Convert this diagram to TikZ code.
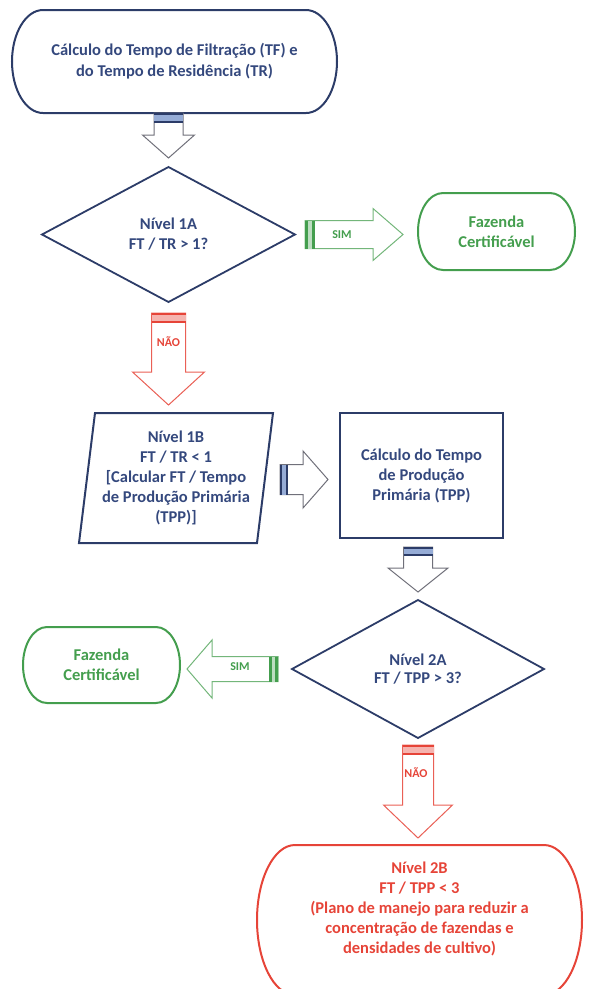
\documentclass[tikz,border=0pt]{standalone}
\usepackage{fontspec}
\setmainfont{Carlito}
\usetikzlibrary{shapes.geometric,calc}
\definecolor{navy}{RGB}{44,60,104}
\definecolor{navytxt}{RGB}{52,72,125}
\definecolor{fgreen}{RGB}{68,158,78}
\definecolor{fred}{RGB}{230,68,56}
\definecolor{agray}{RGB}{112,112,122}
\definecolor{lblue}{RGB}{150,172,214}
% terminal outline with elliptical ends, drawn around a holder node
\newcommand\termline[4]{%
  \draw[#1] ($(#2.north west)+(#3,0)$) -- ($(#2.north east)+(-#3,0)$)
    arc[start angle=90, end angle=-90, x radius=#3pt, y radius=#4pt]
    -- ($(#2.south west)+(#3,0)$)
    arc[start angle=270, end angle=90, x radius=#3pt, y radius=#4pt] -- cycle;}
% vertical block arrow: style, tail, tip, shaft half, head half, head length
\newcommand\varrow[6]{%
  \draw[#1] ($(#2)+(-#4,0)$) -- ($(#3)+(-#4,{-(#6)})$) -- ($(#3)+(-#5,{-(#6)})$) -- (#3)
    -- ($(#3)+(#5,{-(#6)})$) -- ($(#3)+(#4,{-(#6)})$) -- ($(#2)+(#4,0)$) -- cycle;}
% horizontal block arrow: head length signed (+ right, - left)
\newcommand\harrow[6]{%
  \draw[#1] ($(#2)+(0,-#4)$) -- ($(#3)+({-(#6)},-#4)$) -- ($(#3)+({-(#6)},-#5)$) -- (#3)
    -- ($(#3)+({-(#6)},#5)$) -- ($(#3)+({-(#6)},#4)$) -- ($(#2)+(0,#4)$) -- cycle;}
% header bars
\newcommand\vhead[5]{%
  \fill[#1] ($(#3)+(-#4,0)$) rectangle ($(#3)+(#4,#5)$);
  \draw[#2, line width=2.2pt] ($(#3)+(-#4,1.1)$) -- ($(#3)+(#4,1.1)$);
  \draw[#2, line width=2.2pt] ($(#3)+(-#4,{#5-1.1})$) -- ($(#3)+(#4,{#5-1.1})$);}
\newcommand\hhead[5]{%
  \fill[#1] ($(#3)+(0,-#4)$) rectangle ($(#3)+(#5,#4)$);
  \draw[#2, line width=2.4pt] ($(#3)+({0.15*(#5)},-#4)$) -- ($(#3)+({0.15*(#5)},#4)$);
  \draw[#2, line width=2.4pt] ($(#3)+({0.85*(#5)},-#4)$) -- ($(#3)+({0.85*(#5)},#4)$);}
\begin{document}
\begin{tikzpicture}[x=1pt,y=-1pt,
  every node/.style={inner sep=0pt, outer sep=0pt},
  txt/.style={align=center, font=\fontsize{16.5}{20}\selectfont\bfseries},
  small/.style={font=\fontsize{12}{14}\selectfont\bfseries},
  holder/.style={shape=rectangle, draw=none},
  nline/.style={draw=navy, line width=2pt},
  gline/.style={draw=fgreen, line width=2pt},
  rline/.style={draw=fred, line width=2pt},
  barrow/.style={draw=agray, line width=1pt, fill=white},
  garrow/.style={draw=fgreen!75, line width=1pt, fill=white},
  rarrow/.style={draw=fred!85, line width=1pt, fill=white},
  decision/.style={diamond, aspect=1.9, nline, line width=1.8pt, txt, text=navytxt}
]
\useasboundingbox (0,0) rectangle (589,989);
\clip (0,0) rectangle (589,989);

% ---- shapes
\node[holder, txt, text=navytxt, minimum width=325pt, minimum height=103pt] (t1) at (174.5,61.5)
  {Cálculo do Tempo de Filtração (TF) e\\[1pt]do Tempo de Residência (TR)};
\termline{nline}{t1}{31}{51.5}

\node[decision, minimum width=253pt, minimum height=135pt] (d1) at (168.5,234.5) {Nível 1A\\FT / TR > 1?};

\node[holder, txt, text=fgreen, minimum width=157pt, minimum height=77pt] (f1) at (496.5,231.5) {Fazenda\\Certificável};
\termline{gline}{f1}{25}{38.5}

\node[holder, minimum width=194pt, minimum height=130pt] (p1) at (176,478) {};
\draw[nline] ($(p1.north west)+(16,0)$) -- (p1.north east) -- ($(p1.south east)+(-16,0)$) -- (p1.south west) -- cycle;
\node[txt, text=navytxt] (p1t) at ($(p1.center)+(0,0)$)
  {Nível 1B\\FT / TR < 1\\{[}Calcular FT / Tempo\\de Produção Primária\\(TPP)]};

\node[draw=navy, line width=2pt, minimum width=163pt, minimum height=125pt, txt, text=navytxt] (r1) at (421.5,475.5)
  {Cálculo do Tempo\\de Produção\\Primária (TPP)};

\node[decision, minimum width=252pt, minimum height=138pt] (d2) at (418,669) {Nível 2A\\[-2pt]FT / TPP > 3?};

\node[holder, txt, text=fgreen, minimum width=157pt, minimum height=76pt] (f2) at (101.5,665) {Fazenda\\Certificável};
\termline{gline}{f2}{24}{38}

\node[holder, minimum width=325pt, minimum height=150pt] (t2) at (419.5,920) {};
\termline{rline}{t2}{38}{75}
\node[txt, text=fred] (t2t) at ($(t2.center)+(0,-11)$)
  {Nível 2B\\FT / TPP < 3\\(Plano de manejo para reduzir a\\concentração de fazendas e\\densidades de cultivo)};

% ---- block arrows
\coordinate (a1a) at (t1.south -| d1.north);
\coordinate (a1b) at ($(d1.north)+(0,-9)$);
\varrow{barrow}{a1a}{a1b}{14.5}{26}{23}
\vhead{lblue}{navy}{a1a}{14.5}{10}

\coordinate (s1a) at ($(d1.east)+(10,0)$);
\coordinate (s1b) at ($(d1.east -| f1.west)+(-15,0)$);
\harrow{garrow}{s1a}{s1b}{14}{26}{30}
\hhead{fgreen!35}{fgreen}{s1a}{14}{10}
\node[small, text=fgreen] (sim1) at ($(s1a)+(37,0)$) {SIM};

\coordinate (n1a) at ($(d1.south)+(0,11)$);
\coordinate (n1b) at ($(p1.north -| d1.south)+(0,-8)$);
\varrow{rarrow}{n1a}{n1b}{17}{36}{33}
\vhead{fred!40}{fred}{n1a}{17}{10}
\node[small, text=fred] (nao1) at ($(n1a)+(0,29)$) {NÃO};

\coordinate (a2a) at ($(p1.east |- r1.west)+(7,4)$);
\coordinate (a2b) at ($(r1.west)+(-12,4)$);
\harrow{barrow}{a2a}{a2b}{15}{28.5}{25}
\hhead{lblue}{navy}{a2a}{15}{8}

\coordinate (a3a) at ($(r1.south -| d2.north)+(0,9)$);
\coordinate (a3b) at ($(d2.north)+(0,-8)$);
\varrow{barrow}{a3a}{a3b}{14.5}{30}{24}
\vhead{lblue}{navy}{a3a}{14.5}{9}

\coordinate (s2a) at ($(d2.west)+(-14,0)$);
\coordinate (s2b) at ($(d2.west -| f2.east)+(7,0)$);
\harrow{garrow}{s2a}{s2b}{12.5}{29}{-25}
\hhead{fgreen!35}{fgreen}{s2a}{12.5}{-9}
\node[small, text=fgreen] (sim2) at ($(s2a)+(-38,-2)$) {SIM};

\coordinate (n2a) at ($(d2.south)+(0,7)$);
\coordinate (n2b) at ($(t2.north -| d2.south)+(0,-7)$);
\varrow{rarrow}{n2a}{n2b}{15.5}{34.5}{33}
\vhead{fred!40}{fred}{n2a}{15.5}{10}
\node[small, text=fred] (nao2) at ($(n2a)+(-2,28)$) {NÃO};
\end{tikzpicture}
\end{document}
